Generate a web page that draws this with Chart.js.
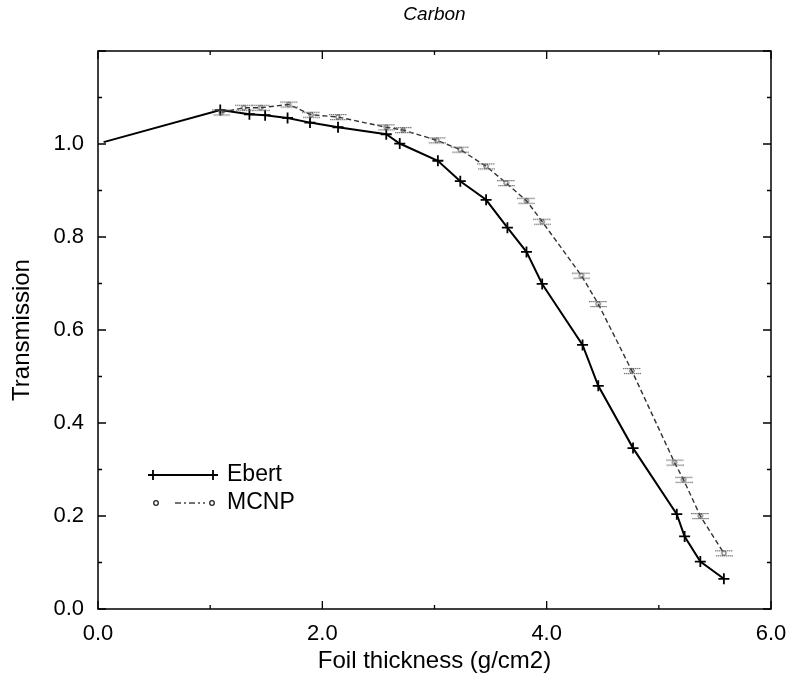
<!DOCTYPE html>
<html>
<head>
<meta charset="utf-8">
<script src="https://cdn.jsdelivr.net/npm/chart.js@4.4.1/dist/chart.umd.min.js"></script>
<style>
  html, body { margin: 0; padding: 0; background: #fff; }
  #wrap { width: 792px; height: 677px; }
</style>
</head>
<body>
<div id="wrap"><canvas id="c" width="792" height="677"></canvas></div>
<script>
// ---- data ----
const ebertX = [0.05, 1.09, 1.35, 1.49, 1.69, 1.89, 2.14, 2.57, 2.69, 3.03, 3.23, 3.46, 3.65, 3.82, 3.96, 4.32, 4.46, 4.77, 5.16, 5.23, 5.37, 5.58];
const ebertY = [1.004, 1.073, 1.064, 1.062, 1.056, 1.046, 1.036, 1.021, 1.001, 0.964, 0.920, 0.880, 0.820, 0.768, 0.699, 0.568, 0.480, 0.346, 0.204, 0.156, 0.102, 0.065];
const mcnpX = [1.10, 1.30, 1.45, 1.70, 1.90, 2.14, 2.57, 2.72, 3.02, 3.23, 3.46, 3.64, 3.82, 3.96, 4.31, 4.46, 4.76, 5.14, 5.22, 5.37, 5.58];
const mcnpY = [1.068, 1.078, 1.078, 1.085, 1.063, 1.058, 1.036, 1.030, 1.008, 0.988, 0.952, 0.916, 0.878, 0.833, 0.717, 0.656, 0.512, 0.315, 0.278, 0.200, 0.120];
const xTickLabels = [0, 2, 4, 6];
const yTickLabels = [0, 0.2, 0.4, 0.6, 0.8, 1.0];
const seriesNames = ['Ebert', 'MCNP'];
const titleText = 'Carbon';
const xTitle = 'Foil thickness (g/cm2)';
const yTitle = 'Transmission';

const FONT = "'Liberation Sans', Arial, Helvetica, sans-serif";

// MCNP marker: dotted gray rows with a small circle
function makeMcnpMarker() {
  const c = document.createElement('canvas');
  c.width = 18; c.height = 10;
  const g = c.getContext('2d');
  g.fillStyle = '#6e6e6e';
  for (let x = 0; x < 18; x += 2) {
    g.fillRect(x, 2, 1.4, 1.2);
    g.fillRect(x + 1, 7, 1.4, 1.2);
  }
  g.strokeStyle = '#444';
  g.lineWidth = 1;
  g.beginPath(); g.arc(9, 5, 2.2, 0, Math.PI * 2); g.stroke();
  return c;
}
const mcnpMarker = makeMcnpMarker();

const framePlugin = {
  id: 'frame',
  afterDatasetsDraw(chart) {
    const { ctx, chartArea: a, scales } = chart;
    ctx.save();
    ctx.strokeStyle = '#000';
    ctx.lineWidth = 1.5;
    ctx.strokeRect(a.left, a.top, a.right - a.left, a.bottom - a.top);
    ctx.lineWidth = 1.3;
    ctx.beginPath();
    for (let k = 0; k <= 12; k++) {
      const py = scales.y.getPixelForValue(k / 10);
      const len = k % 2 === 0 ? 8 : 4;
      ctx.moveTo(a.left, py); ctx.lineTo(a.left + len, py);
      ctx.moveTo(a.right, py); ctx.lineTo(a.right - len, py);
    }
    for (let k = 0; k <= 6; k++) {
      const px = scales.x.getPixelForValue(k);
      const len = k % 2 === 0 ? 8 : 4;
      ctx.moveTo(px, a.bottom); ctx.lineTo(px, a.bottom - len);
      ctx.moveTo(px, a.top); ctx.lineTo(px, a.top + len);
    }
    ctx.stroke();

    // title over the plot area
    ctx.fillStyle = '#000';
    ctx.font = 'italic 19px ' + FONT;
    ctx.textAlign = 'center';
    ctx.textBaseline = 'middle';
    ctx.fillText(titleText, (a.left + a.right) / 2, 15);

    // legend
    const lx0 = 153, lx1 = 213, tx = 227, y1 = 475, y2 = 503;
    ctx.lineWidth = 1.8;
    ctx.setLineDash([]);
    ctx.beginPath();
    ctx.moveTo(lx0, y1); ctx.lineTo(lx1, y1);
    ctx.moveTo(lx0, y1 - 5); ctx.lineTo(lx0, y1 + 5);
    ctx.moveTo(lx0 - 5, y1); ctx.lineTo(lx0 + 5, y1);
    ctx.moveTo(lx1, y1 - 5); ctx.lineTo(lx1, y1 + 5);
    ctx.moveTo(lx1 - 5, y1); ctx.lineTo(lx1 + 5, y1);
    ctx.stroke();
    ctx.strokeStyle = '#444';
    ctx.lineWidth = 1.3;
    ctx.setLineDash([6, 3, 2, 3]);
    ctx.beginPath(); ctx.moveTo(175, y2); ctx.lineTo(205, y2); ctx.stroke();
    ctx.setLineDash([]);
    ctx.strokeStyle = '#222';
    ctx.beginPath(); ctx.arc(156, y2, 2.3, 0, Math.PI * 2); ctx.stroke();
    ctx.beginPath(); ctx.arc(212, y2, 2.3, 0, Math.PI * 2); ctx.stroke();
    ctx.fillStyle = '#000';
    ctx.font = '23px ' + FONT;
    ctx.textBaseline = 'middle';
    ctx.textAlign = 'left';
    ctx.fillText(seriesNames[0], tx, y1);
    ctx.fillText(seriesNames[1], tx, y2);
    ctx.restore();
  }
};

new Chart(document.getElementById('c'), {
  type: 'scatter',
  data: {
    datasets: [
      {
        label: seriesNames[1],
        data: mcnpX.map((x, i) => ({ x, y: mcnpY[i] })),
        showLine: true,
        borderColor: '#333',
        borderWidth: 1.4,
        borderDash: [5, 3],
        pointStyle: mcnpMarker,
        pointRadius: 5,
        tension: 0
      },
      {
        label: seriesNames[0],
        data: ebertX.map((x, i) => ({ x, y: ebertY[i] })),
        showLine: true,
        borderColor: '#000',
        backgroundColor: '#000',
        borderWidth: 2,
        pointStyle: 'cross',
        pointRadius: ctx => ctx.dataIndex === 0 ? 0 : 5.5,
        pointBorderWidth: 1.8,
        pointBorderColor: '#000',
        tension: 0
      }
    ]
  },
  options: {
    responsive: false,
    animation: false,
    devicePixelRatio: 1,
    layout: { padding: { left: 0, right: 21, top: 51, bottom: 0 } },
    plugins: {
      legend: { display: false },
      tooltip: { enabled: false },
      title: { display: false }
    },
    scales: {
      x: {
        type: 'linear',
        min: 0, max: 6,
        afterBuildTicks: s => { s.ticks = xTickLabels.map(v => ({ value: v })); },
        ticks: {
          color: '#000',
          font: { family: FONT, size: 22 },
          padding: 12,
          maxRotation: 0,
          callback: v => Number(v).toFixed(1)
        },
        grid: { display: false, drawTicks: false },
        border: { display: false },
        title: {
          display: true,
          text: xTitle,
          color: '#000',
          font: { family: FONT, size: 24 },
          padding: { top: 0, bottom: 1 }
        },
        afterFit: s => { s.height = 68; s.paddingLeft = 0; s.paddingRight = 0; }
      },
      y: {
        type: 'linear',
        min: 0, max: 1.2,
        afterBuildTicks: s => { s.ticks = yTickLabels.map(v => ({ value: v })); },
        ticks: {
          color: '#000',
          font: { family: FONT, size: 22 },
          padding: 14,
          callback: v => Number(v).toFixed(1)
        },
        grid: { display: false, drawTicks: false },
        border: { display: false },
        title: {
          display: true,
          text: yTitle,
          color: '#000',
          font: { family: FONT, size: 24 },
          padding: { top: 8, bottom: 0 }
        },
        afterFit: s => { s.width = 98; s.paddingTop = 0; s.paddingBottom = 0; }
      }
    }
  },
  plugins: [framePlugin]
});
</script>
</body>
</html>
